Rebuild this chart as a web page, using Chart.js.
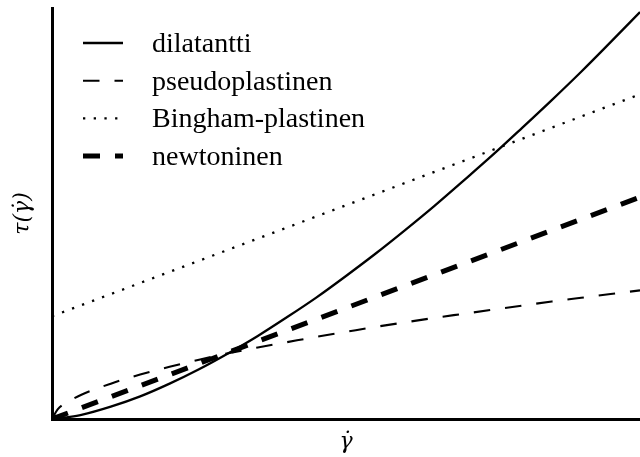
<!DOCTYPE html>
<html>
<head>
<meta charset="utf-8">
<script src="https://cdn.jsdelivr.net/npm/chart.js@4/dist/chart.umd.min.js"></script>
<style>
  html, body { margin: 0; padding: 0; background: #fff; }
  #wrap { width: 640px; height: 457px; position: relative; }
</style>
</head>
<body>
<div id="wrap"><canvas id="c"></canvas></div>
<script>
// Shear rate samples (dimensionless) for the curved flow laws
const shearRate = [0, 0.01, 0.025, 0.05, 0.1, 0.15, 0.2, 0.25, 0.3, 0.35, 0.4, 0.45,
                   0.5, 0.55, 0.6, 0.65, 0.7, 0.75, 0.8, 0.85, 0.9, 0.95, 1.0];
// Shear stress of a shear-thickening fluid
const dilatantti = [0, 0.001, 0.004, 0.010, 0.030, 0.055, 0.086, 0.121, 0.160, 0.202, 0.248, 0.296,
                    0.348, 0.402, 0.459, 0.518, 0.580, 0.643, 0.709, 0.776, 0.845, 0.917, 0.99];
// Shear stress of a shear-thinning fluid
const pseudoplastinen = [0, 0.024, 0.040, 0.059, 0.086, 0.108, 0.127, 0.144, 0.160, 0.174, 0.187, 0.200,
                         0.212, 0.224, 0.235, 0.246, 0.256, 0.266, 0.276, 0.286, 0.295, 0.304, 0.313];
// Straight-line laws: end points only
const lineEnds = [0, 1];
const binghamPlastinen = [0.25, 0.79];
const newtoninen = [0, 0.54];

const seriesLabels = ['dilatantti', 'pseudoplastinen', 'Bingham-plastinen', 'newtoninen'];
const xTitle = 'γ̇';
const yTitle = 'τ(γ̇)';

const pts = (xs, ys) => xs.map((x, i) => ({ x, y: ys[i] }));

// Legend drawn inside the plot area, using each dataset's own stroke style
const innerLegend = {
  id: 'innerLegend',
  afterDraw(chart) {
    const { ctx, chartArea } = chart;
    const x0 = chartArea.left + 31, x1 = chartArea.left + 71, tx = chartArea.left + 100;
    ctx.save();
    ctx.font = '28px "Liberation Serif"';
    ctx.fillStyle = '#000';
    ctx.textBaseline = 'alphabetic';
    chart.data.datasets.forEach((ds, i) => {
      const y = chartArea.top + 35 + i * 37.7;
      ctx.beginPath();
      ctx.strokeStyle = ds.borderColor;
      ctx.lineWidth = ds.borderWidth;
      ctx.lineCap = ds.borderCapStyle || 'butt';
      ctx.setLineDash(ds.borderDash || []);
      ctx.moveTo(x0, y);
      ctx.lineTo(x1, y);
      ctx.stroke();
      ctx.setLineDash([]);
      ctx.fillText(ds.label, tx, y + 9);
    });
    ctx.restore();
  }
};

const titleFont = { family: 'DejaVu Serif', size: 22, style: 'italic' };

new Chart(document.getElementById('c'), {
  type: 'line',
  data: {
    datasets: [
      { label: seriesLabels[0], data: pts(shearRate, dilatantti),
        borderColor: '#000', borderWidth: 2.3, borderDash: [], cubicInterpolationMode: 'monotone' },
      { label: seriesLabels[1], data: pts(shearRate, pseudoplastinen),
        borderColor: '#000', borderWidth: 2.1, borderDash: [16.5, 15], cubicInterpolationMode: 'monotone' },
      { label: seriesLabels[2], data: pts(lineEnds, binghamPlastinen),
        borderColor: '#000', borderWidth: 2.3, borderDash: [2.3, 8.4] },
      { label: seriesLabels[3], data: pts(lineEnds, newtoninen),
        borderColor: '#000', borderWidth: 5, borderDash: [17, 15] }
    ]
  },
  options: {
    responsive: true,
    maintainAspectRatio: false,
    animation: false,
    layout: { padding: { top: 8, right: 0, left: 0, bottom: 0 } },
    elements: { point: { radius: 0 }, line: { tension: 0, fill: false } },
    plugins: { legend: { display: false }, tooltip: { enabled: false } },
    scales: {
      x: {
        type: 'linear', min: 0, max: 1,
        grid: { display: false, lineWidth: 3 },
        border: { display: true, color: '#000', width: 3 },
        ticks: { display: false },
        title: { display: true, text: xTitle, color: '#000', font: titleFont,
                 padding: { top: 0, bottom: 2 } },
        afterFit(scale) { scale.height = 38; }
      },
      y: {
        type: 'linear', min: 0, max: 1,
        grid: { display: false, lineWidth: 3 },
        border: { display: true, color: '#000', width: 3 },
        ticks: { display: false },
        title: { display: true, text: yTitle, color: '#000', font: titleFont,
                 padding: { top: 10, bottom: 0 } },
        afterFit(scale) { scale.width = 52; }
      }
    }
  },
  plugins: [innerLegend]
});
</script>
</body>
</html>
